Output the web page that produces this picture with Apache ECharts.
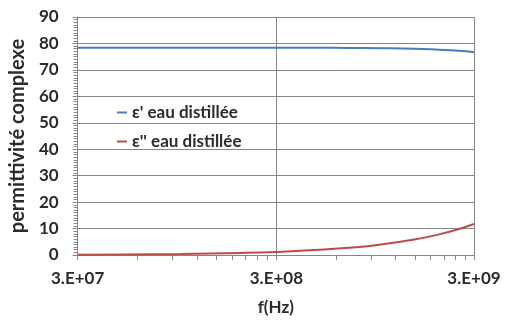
<!DOCTYPE html>
<html><head><meta charset="utf-8">
<script src="https://cdn.jsdelivr.net/npm/echarts@6/dist/echarts.min.js"></script>
<style>html,body{margin:0;padding:0;background:#fff}#c{width:512px;height:324px}</style>
</head><body><div id="c"></div>
<script>
const freq = [3e7, 5e7, 1e8, 2e8, 3e8, 5e8, 7e8, 1e9, 1.5e9, 2e9, 2.5e9, 3e9];
const epsReal = [78.4, 78.4, 78.4, 78.4, 78.38, 78.35, 78.3, 78.2, 78.0, 77.6, 77.2, 76.7];
const epsImag = [0.12, 0.2, 0.39, 0.78, 1.17, 1.95, 2.73, 3.9, 5.85, 7.8, 9.75, 11.7];
const seriesNames = ["\u03b5' eau distill\u00e9e", "\u03b5'' eau distill\u00e9e"];
const yTicks = [0, 10, 20, 30, 40, 50, 60, 70, 80, 90];
const xLabelExtent = [3e7, 3e9];

const font = "Lato";
const txt = '#2b2b2b';
function fmtX(v) {
  const s = Number(v).toExponential(0);
  const m = s.split('e');
  const exp = parseInt(m[1], 10);
  return m[0] + '.E' + (exp >= 0 ? '+' : '-') + String(Math.abs(exp)).padStart(2, '0');
}
const chart = echarts.init(document.getElementById('c'), null, {renderer: 'canvas'});
chart.setOption({
  animation: false,
  backgroundColor: '#fff',
  grid: {left: 76, right: 38, top: 17, bottom: 69, containLabel: false},
  legend: {
    orient: 'vertical', left: 112, top: 99, itemGap: 12,
    itemWidth: 10, itemHeight: 2, icon: 'rect',
    textStyle: {fontFamily: font, fontWeight: 'bold', fontSize: 17, color: txt},
    data: seriesNames
  },
  xAxis: {
    type: 'log', logBase: 10, min: xLabelExtent[0], max: xLabelExtent[1], interval: 1,
    name: 'f(Hz)', nameLocation: 'middle', nameGap: 44,
    nameTextStyle: {fontFamily: font, fontWeight: 'bold', fontSize: 17, color: txt},
    axisLine: {show: true, lineStyle: {color: '#868686', width: 1}},
    axisTick: {show: true, length: 5, lineStyle: {color: '#868686'}},
    minorTick: {show: true, splitNumber: 9, length: 5, lineStyle: {color: '#868686'}},
    axisLabel: {fontFamily: font, fontWeight: 'bold', fontSize: 17, color: txt, margin: 15, formatter: fmtX},
    splitLine: {show: true, lineStyle: {color: '#868686', width: 1}}
  },
  yAxis: {
    type: 'value', min: yTicks[0], max: yTicks[yTicks.length - 1], interval: 10,
    name: 'permittivit\u00e9 complexe', nameLocation: 'middle', nameGap: 44,
    nameTextStyle: {fontFamily: font, fontWeight: 'bold', fontSize: 20, color: txt},
    axisLine: {show: true, lineStyle: {color: '#868686', width: 1}},
    axisTick: {show: true, length: 5, lineStyle: {color: '#868686'}},
    minorTick: {show: true, splitNumber: 10, length: 4, lineStyle: {color: '#868686'}},
    axisLabel: {fontFamily: font, fontWeight: 'bold', fontSize: 17, color: txt, margin: 19},
    splitLine: {show: true, lineStyle: {color: '#868686', width: 1}}
  },
  series: [
    {name: seriesNames[0], type: 'line', smooth: true, showSymbol: false, symbol: 'none',
     lineStyle: {color: '#4A7EBB', width: 2}, itemStyle: {color: '#4A7EBB'},
     data: freq.map((f, i) => [f, epsReal[i]])},
    {name: seriesNames[1], type: 'line', smooth: true, showSymbol: false, symbol: 'none',
     lineStyle: {color: '#BE4B48', width: 2}, itemStyle: {color: '#BE4B48'},
     data: freq.map((f, i) => [f, epsImag[i]])}
  ]
});
</script></body></html>
